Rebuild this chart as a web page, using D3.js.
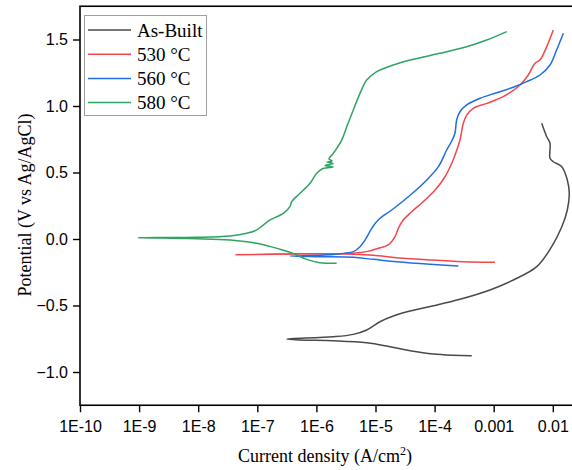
<!DOCTYPE html>
<html>
<head>
<meta charset="utf-8">
<script src="https://cdn.jsdelivr.net/npm/d3@7"></script>
<style>
  body { margin: 0; background: #fff; }
  #plot svg { display: block; }
</style>
</head>
<body>
<div id="plot"></div>
<script>
// ---- data: current density (A/cm2) and potential (V vs Ag/AgCl)
// each scan goes cathodic branch (right -> left) then anodic branch (left -> right / up)

let seriesNames = ['As-Built', '530 °C', '560 °C', '580 °C'];
let seriesColors = ['#4a4a4a', '#f4464b', '#1f6fe3', '#2ea462'];

let asBuiltI = [4.25e-4, 2.07e-4, 9.51e-5, 3.84e-5, 1.76e-5, 7.10e-6, 1.93e-6, 5.28e-7, 3.14e-7,
                1.93e-6, 4.21e-6, 7.10e-6, 1.19e-5, 2.00e-5, 3.84e-5, 9.51e-5, 2.69e-4,
                8.65e-4, 2.15e-3, 5.35e-3, 9.57e-3, 1.42e-2, 1.76e-2, 1.90e-2, 1.76e-2,
                1.42e-2, 1.02e-2, 8.97e-3, 8.97e-3, 7.89e-3, 6.49e-3];
let asBuiltE = [-0.877, -0.874, -0.865, -0.840, -0.810, -0.780, -0.765, -0.759, -0.752,
                -0.735, -0.717, -0.684, -0.622, -0.579, -0.541, -0.502, -0.453,
                -0.383, -0.308, -0.208, -0.058, 0.092, 0.218, 0.344, 0.444,
                0.544, 0.581, 0.607, 0.720, 0.769, 0.870];

let t530I = [1.05e-3, 3.06e-4, 8.36e-5, 2.29e-5, 9.18e-6, 3.26e-6, 5.28e-7, 4.37e-8,
             5.28e-7, 3.26e-6, 7.10e-6, 1.11e-5, 1.65e-5, 2.14e-5, 2.43e-5, 2.95e-5,
             4.10e-5, 6.89e-5, 1.02e-4, 1.50e-4, 1.95e-4, 2.37e-4, 2.69e-4, 3.06e-4,
             3.49e-4, 4.52e-4, 7.62e-4, 1.45e-3, 2.79e-3, 3.85e-3, 5.00e-3, 6.07e-3,
             7.89e-3, 1.02e-2];
let t530E = [-0.175, -0.171, -0.158, -0.141, -0.123, -0.113, -0.113, -0.118,
             -0.111, -0.109, -0.095, -0.070, -0.045, 0.017, 0.080, 0.143,
             0.205, 0.293, 0.368, 0.468, 0.569, 0.669, 0.744, 0.870,
             0.932, 0.983, 1.020, 1.070, 1.158, 1.233, 1.321, 1.346,
             1.446, 1.571];

let t560I = [2.52e-4, 8.36e-5, 2.29e-5, 9.18e-6, 4.21e-6, 1.15e-6, 3.57e-7,
             1.15e-6, 4.21e-6, 5.12e-6, 6.64e-6, 8.63e-6, 1.11e-5, 1.88e-5, 3.59e-5,
             6.89e-5, 1.16e-4, 1.60e-4, 1.95e-4, 2.21e-4, 2.36e-4, 2.69e-4, 3.49e-4,
             5.86e-4, 1.12e-3, 2.15e-3, 3.61e-3, 6.07e-3, 8.97e-3, 1.16e-2, 1.51e-2];
let t560E = [-0.203, -0.190, -0.171, -0.153, -0.138, -0.133, -0.128,
             -0.123, -0.095, -0.070, -0.008, 0.080, 0.143, 0.218, 0.318,
             0.431, 0.544, 0.669, 0.737, 0.795, 0.895, 0.957, 1.008,
             1.058, 1.100, 1.141, 1.183, 1.233, 1.308, 1.421, 1.547];

let t580I = [2.20e-6, 1.15e-6, 6.85e-7, 4.06e-7, 2.42e-7, 9.77e-8, 3.45e-8, 9.44e-9, 9.68e-10,
             9.44e-9, 3.45e-8, 6.62e-8, 9.77e-8, 1.26e-7, 1.64e-7, 2.75e-7, 3.57e-7, 3.82e-7,
             5.28e-7, 7.80e-7, 1.01e-6, 1.29e-6, 1.91e-6, 1.40e-6, 1.91e-6, 1.51e-6, 1.84e-6,
             1.63e-6, 1.93e-6, 2.68e-6, 3.26e-6, 4.21e-6, 5.47e-6, 7.10e-6, 1.05e-5, 2.00e-5,
             4.37e-5, 1.23e-4, 3.49e-4, 7.62e-4, 1.66e-3];
let t580E = [-0.183, -0.178, -0.153, -0.108, -0.077, -0.032, -0.008, 0.002, 0.010,
             0.013, 0.023, 0.043, 0.068, 0.105, 0.143, 0.193, 0.243, 0.281,
             0.344, 0.419, 0.494, 0.530, 0.541, 0.553, 0.568, 0.579, 0.586,
             0.602, 0.644, 0.744, 0.844, 0.970, 1.095, 1.195, 1.258, 1.308,
             1.351, 1.396, 1.446, 1.496, 1.559];

let xTicks = [1e-10, 1e-9, 1e-8, 1e-7, 1e-6, 1e-5, 1e-4, 1e-3, 1e-2];
let xTickLabels = ['1E-10', '1E-9', '1E-8', '1E-7', '1E-6', '1E-5', '1E-4', '0.001', '0.01'];
let yTicks = [-1.0, -0.5, 0.0, 0.5, 1.0, 1.5];

window.addEventListener('load', main);

function main(){

  let [ figWidth, figHeight ] = [572, 470];
  let svg = d3.select('#plot').append('svg')
              .attr('width', figWidth)
              .attr('height', figHeight);

  // plot box (the right edge of the frame sits outside the picture)
  let [ left, right, top, bottom ] = [80, 590, 6.25, 405.25];

  let scX = d3.scaleLog()
              .domain([1e-10, 1e-2])
              .range([left, left + 59.1 * 8]);
  let scY = d3.scaleLinear()
              .domain([-1.25, 1.75])
              .range([bottom, top]);

  let series = [
    { I: asBuiltI, E: asBuiltE },
    { I: t530I,    E: t530E },
    { I: t560I,    E: t560E },
    { I: t580I,    E: t580E }
  ].map((s, k) => ({
    name: seriesNames[k],
    color: seriesColors[k],
    pts: s.I.map((v, j) => ({ i: v, e: s.E[j] }))
  }));

  // frame
  svg.append('rect')
     .attr('x', left).attr('y', top)
     .attr('width', right - left).attr('height', bottom - top)
     .attr('fill', 'none').attr('stroke', '#000').attr('stroke-width', 1.6);

  // curves
  let pathData = d3.line()
                   .x(d => scX(d.i))
                   .y(d => scY(d.e))
                   .curve(d3.curveCatmullRom.alpha(0.5));

  let lineGroup = svg.append('g').attr('fill', 'none').attr('stroke-width', 1.5);
  series.forEach(s => {
    lineGroup.append('path')
             .attr('d', pathData(s.pts))
             .attr('stroke', s.color)
             .attr('stroke-linejoin', 'round');
  });

  // axes
  let xAxis = d3.axisBottom(scX)
                .tickValues(xTicks)
                .tickFormat((d, k) => xTickLabels[k])
                .tickSize(7)
                .tickPadding(5);
  let gx = svg.append('g')
              .attr('transform', `translate(0,${bottom})`)
              .call(xAxis);
  gx.select('.domain').remove();

  let yAxis = d3.axisLeft(scY)
                .tickValues(yTicks)
                .tickFormat(d3.format('.1f'))
                .tickSize(7)
                .tickPadding(5);
  let gy = svg.append('g')
              .attr('transform', `translate(${left},0)`)
              .call(yAxis);
  gy.select('.domain').remove();

  svg.selectAll('.tick line').attr('stroke', '#000').attr('stroke-width', 1.4);
  svg.selectAll('.tick text')
     .attr('font-family', 'Liberation Sans, Arial, sans-serif')
     .attr('font-size', 16)
     .attr('fill', '#000');
  gx.selectAll('.tick text').attr('dy', '0.95em');

  // axis titles
  let xt = svg.append('text')
              .attr('x', 325).attr('y', 462)
              .attr('text-anchor', 'middle')
              .attr('font-family', 'Liberation Serif, Times New Roman, serif')
              .attr('font-size', 18)
              .text('Current density (A/cm');
  xt.append('tspan').attr('font-size', 12).attr('dy', -7).text('2');
  xt.append('tspan').attr('dy', 7).text(')');

  svg.append('text')
     .attr('transform', 'translate(31,205) rotate(-90)')
     .attr('text-anchor', 'middle')
     .attr('font-family', 'Liberation Serif, Times New Roman, serif')
     .attr('font-size', 18)
     .text('Potential (V vs Ag/AgCl)');

  // legend
  let legend = svg.append('g');
  legend.append('rect')
        .attr('x', 84.5).attr('y', 15.5)
        .attr('width', 122).attr('height', 100)
        .attr('fill', '#fff').attr('stroke', '#a0a0a0').attr('stroke-width', 1);

  let rows = legend.selectAll('g.row')
                   .data(series)
                   .join('g')
                   .attr('class', 'row')
                   .attr('transform', (d, k) => `translate(0,${30 + k * 24.2})`);
  rows.append('line')
      .attr('x1', 88).attr('x2', 131)
      .attr('y1', 0).attr('y2', 0)
      .attr('stroke', d => d.color).attr('stroke-width', 1.5);
  rows.append('text')
      .attr('x', 137).attr('y', 6.5)
      .attr('font-family', 'Liberation Serif, Times New Roman, serif')
      .attr('font-size', 19)
      .text(d => d.name);
}
</script>
</body>
</html>
